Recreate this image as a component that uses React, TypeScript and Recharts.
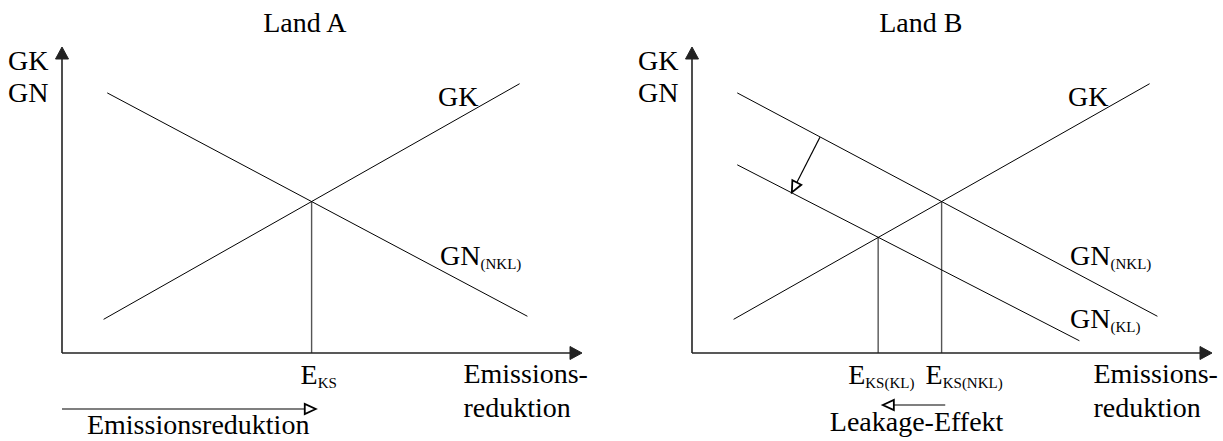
import React from "react";
import {
  LineChart,
  Line,
  XAxis,
  YAxis,
  ReferenceLine,
  ReferenceDot,
} from "recharts";

type Pt = { x: number; y: number };

// curves (same units on both panels: 0..10 on each axis)
const gkA: Pt[] = [{ x: 0.8, y: 1.1 }, { x: 8.8, y: 8.8 }];
const gnNklA: Pt[] = [{ x: 0.87, y: 8.5 }, { x: 8.95, y: 1.2 }];

const gkB: Pt[] = [{ x: 0.8, y: 1.1 }, { x: 8.8, y: 8.8 }];
const gnNklB: Pt[] = [{ x: 0.87, y: 8.5 }, { x: 8.95, y: 1.2 }];
const gnKlB: Pt[] = [{ x: 0.87, y: 6.15 }, { x: 7.45, y: 0.4 }];

// equilibria E_KS (x position and height of the drop line)
const eksA = [4.8];
const eksHeightA = [4.95];
const eksLabelsA = ["KS"];

const eksB = [3.58, 4.8];
const eksHeightB = [3.78, 4.95];
const eksLabelsB = ["KS(KL)", "KS(NKL)"];

// annotation arrows
const shiftB: Pt[] = [{ x: 2.46, y: 7.05 }, { x: 1.92, y: 5.25 }];
const reductionA: Pt[] = [{ x: 0, y: -1.83 }, { x: 4.88, y: -1.83 }];
const leakageB: Pt[] = [{ x: 4.87, y: -1.7 }, { x: 3.67, y: -1.7 }];

const FONT = '"Liberation Serif", "Times New Roman", serif';
const FS = 28;
const SUB = 15;

function arrow(open: boolean, head: number, half: number, stroke: string, width: number) {
  return (props: any) => {
    const { x1, y1, x2, y2 } = props;
    const dx = x2 - x1;
    const dy = y2 - y1;
    const len = Math.hypot(dx, dy) || 1;
    const ux = dx / len;
    const uy = dy / len;
    const bx = x2 - ux * head;
    const by = y2 - uy * head;
    const px = -uy * half;
    const py = ux * half;
    return (
      <g>
        <line x1={x1} y1={y1} x2={bx} y2={by} stroke={stroke} strokeWidth={width} />
        <polygon
          points={`${x2},${y2} ${bx + px},${by + py} ${bx - px},${by - py}`}
          fill={open ? "#fff" : stroke}
          stroke={stroke}
          strokeWidth={open ? 1.8 : 1}
        />
      </g>
    );
  };
}

const axisArrow = arrow(false, 12, 6.5, "#222", 1.6);
const openArrow = arrow(true, 11, 5, "#000", 1.2);

function Tx(props: any) {
  const { viewBox, main, sub, anchor = "start" } = props;
  const x = viewBox?.x ?? 0;
  const y = viewBox?.y ?? 0;
  return (
    <text x={x} y={y} textAnchor={anchor} fontFamily={FONT} fontSize={FS} fill="#000">
      {main}
      {sub ? (
        <tspan fontSize={SUB} dy={4}>
          {sub}
        </tspan>
      ) : null}
    </text>
  );
}

function makeTick(ticks: number[], labels: string[], dxs: number[]) {
  return (props: any) => {
    const { x, y, payload } = props;
    const i = ticks.indexOf(payload.value);
    return (
      <text x={x + (dxs[i] ?? 0)} y={y + 31} fontFamily={FONT} fontSize={FS} fill="#000">
        E
        <tspan fontSize={SUB} dy={4}>
          {labels[i]}
        </tspan>
      </text>
    );
  };
}

function Label({ x, y, main, sub, anchor }: { x: number; y: number; main: string; sub?: string; anchor?: string }) {
  return (
    <ReferenceDot
      x={x}
      y={y}
      r={0}
      fill="none"
      stroke="none"
      ifOverflow="visible"
      label={<Tx main={main} sub={sub} anchor={anchor} />}
    />
  );
}

type PanelProps = {
  left: number;
  width: number;
  right: number;
  title: string;
  titleX: number;
  curves: { data: Pt[]; key: string }[];
  ticks: number[];
  heights: number[];
  tickLabels: string[];
  tickDx: number[];
  children?: React.ReactNode;
};

function Panel({ left, width, right, title, titleX, curves, ticks, heights, tickLabels, tickDx, children }: PanelProps) {
  return (
    <div style={{ position: "absolute", left, top: 0 }}>
      <LineChart width={width} height={441} margin={{ top: 47, right, bottom: 58, left: 62 }}>
        <XAxis
          type="number"
          dataKey="x"
          domain={[0, 10]}
          allowDataOverflow
          ticks={ticks}
          interval={0}
          tick={makeTick(ticks, tickLabels, tickDx)}
          tickLine={false}
          axisLine={false}
          tickSize={0}
          tickMargin={0}
          height={30}
        />
        <YAxis type="number" domain={[0, 10]} allowDataOverflow hide />

        {ticks.map((t, i) => (
          <ReferenceLine
            key={"drop" + i}
            segment={[{ x: t, y: 0 }, { x: t, y: heights[i] }]}
            stroke="#555"
            strokeWidth={1.4}
            ifOverflow="visible"
          />
        ))}

        {curves.map((c) => (
          <Line
            key={c.key}
            data={c.data}
            dataKey="y"
            type="linear"
            stroke="#000"
            strokeWidth={1}
            dot={false}
            activeDot={false}
            isAnimationActive={false}
          />
        ))}

        <ReferenceLine segment={[{ x: 0, y: 0 }, { x: 10, y: 0 }]} ifOverflow="visible" shape={axisArrow} />
        <ReferenceLine segment={[{ x: 0, y: 0 }, { x: 0, y: 10 }]} ifOverflow="visible" shape={axisArrow} />

        {Label({ x: titleX, y: 10.49, main: title, anchor: "middle" })}
        {Label({ x: -1.04, y: 9.25, main: "GK" })}
        {Label({ x: -1.04, y: 8.2, main: "GN" })}
        {Label({ x: 7.23, y: 8.07, main: "GK" })}
        {Label({ x: 7.27, y: 2.88, main: "GN", sub: "(NKL)" })}
        {Label({ x: 7.72, y: -0.98, main: "Emissions-" })}
        {Label({ x: 7.72, y: -2.09, main: "reduktion" })}
        {children}
      </LineChart>
    </div>
  );
}

export default function App() {
  return (
    <div style={{ position: "absolute", left: 0, top: 0, width: 1223, height: 441, background: "#fff" }}>
      <Panel
        left={0}
        width={611}
        right={29}
        title="Land A"
        titleX={4.67}
        curves={[
          { data: gkA, key: "gkA" },
          { data: gnNklA, key: "gnNklA" },
        ]}
        ticks={eksA}
        heights={eksHeightA}
        tickLabels={eksLabelsA}
        tickDx={[-11]}
      >
        <ReferenceLine segment={reductionA} ifOverflow="visible" shape={openArrow} />
        {Label({ x: 0.48, y: -2.66, main: "Emissionsreduktion" })}
      </Panel>
      <Panel
        left={630}
        width={593}
        right={11}
        title="Land B"
        titleX={4.4}
        curves={[
          { data: gkB, key: "gkB" },
          { data: gnNklB, key: "gnNklB" },
          { data: gnKlB, key: "gnKlB" },
        ]}
        ticks={eksB}
        heights={eksHeightB}
        tickLabels={eksLabelsB}
        tickDx={[-30, -16]}
      >
        <ReferenceLine segment={shiftB} ifOverflow="visible" shape={openArrow} />
        <ReferenceLine segment={leakageB} ifOverflow="visible" shape={openArrow} />
        {Label({ x: 7.27, y: 0.82, main: "GN", sub: "(KL)" })}
        {Label({ x: 2.65, y: -2.56, main: "Leakage-Effekt" })}
      </Panel>
    </div>
  );
}
